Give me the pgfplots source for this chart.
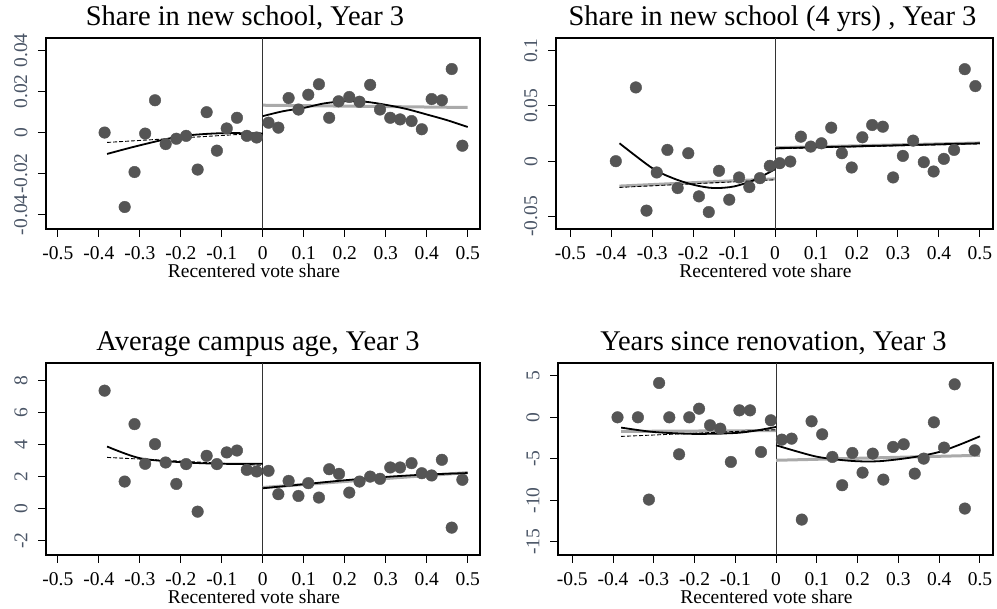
\documentclass[border=0pt]{standalone}
\usepackage{fontspec}
\setmainfont{Liberation Serif}
\usepackage{pgfplots}
\pgfplotsset{compat=1.18}
\definecolor{dot}{HTML}{555555}
\definecolor{fitgray}{HTML}{AAAAAA}
\definecolor{ylab}{HTML}{4A5566}
\pgfplotsset{
  panel/.style={
    scale only axis, width=434pt, height=191pt,
    axis line style={line width=1.2pt, black},
    tick align=outside, xtick pos=lower, ytick pos=left,
    major tick length=8pt,
    tick style={black, line width=1pt},
    scaled y ticks=false, scaled x ticks=false,
    xtick={-0.5,-0.4,-0.3,-0.2,-0.1,0,0.1,0.2,0.3,0.4,0.5},
    xticklabels={-0.5,-0.4,-0.3,-0.2,-0.1,0,0.1,0.2,0.3,0.4,0.5},
    ticklabel style={font=\fontsize{19.5}{21}\selectfont},
    xticklabel style={black},
    xticklabel shift=6pt,
    yticklabel shift=7pt,
    yticklabel style={rotate=90, anchor=south, color=ylab},
    xlabel={Recentered vote share},
    xlabel style={font=\fontsize{19.5}{21}\selectfont, at={(0.5,0)}, anchor=base, yshift=-49pt, xshift=-9pt},
    title style={font=\fontsize{28.5}{31}\selectfont, at={(0.5,1)}, anchor=base, yshift=6pt},
    clip=false,
  },
  pts/.style={only marks, mark=*, mark size=5.8pt, color=dot, mark options={fill=dot, draw=dot}},
  fitb/.style={black, line width=1.8pt, smooth, no marks},
  fitg/.style={fitgray, line width=3pt, no marks},
  fitd/.style={black, line width=0.9pt, dash pattern=on 4pt off 2pt, no marks},
  zline/.style={black!80, line width=0.9pt, no marks},
}
\begin{document}
\begin{tikzpicture}
\path[use as bounding box] (0,0) rectangle (997pt,609pt);

% Panel 1
\begin{axis}[panel, at={(46pt,380pt)}, anchor=south west,
  xmin=-0.529, xmax=0.530, ymin=-0.0469, ymax=0.046,
  ytick={-0.04,-0.02,0,0.02,0.04}, yticklabels={-0.04,-0.02,0,0.02,0.04},
  title={Share in new school, Year 3}, title style={xshift=-18pt}]
\addplot[zline] coordinates {(0,-0.0469) (0,0.046)};
\addplot[pts] coordinates {(-0.386,0) (-0.337,-0.0362) (-0.313,-0.0192) (-0.287,-0.0005) (-0.263,0.0157) (-0.237,-0.0056) (-0.211,-0.003) (-0.187,-0.0016) (-0.159,-0.018) (-0.137,0.0099) (-0.112,-0.0088) (-0.088,0.002) (-0.063,0.0072) (-0.039,-0.0016) (-0.015,-0.0024)};
\addplot[pts] coordinates {(0.014,0.0048) (0.038,0.0024) (0.063,0.0168) (0.087,0.0112) (0.111,0.0184) (0.137,0.0235) (0.162,0.0072) (0.185,0.0152) (0.211,0.0173) (0.236,0.015) (0.262,0.0232) (0.286,0.0112) (0.311,0.0072) (0.335,0.0064) (0.363,0.0056) (0.388,0.0016) (0.412,0.0163) (0.437,0.0157) (0.461,0.0309) (0.487,-0.0064)};
\addplot[fitg] coordinates {(0,0.0133) (0.5,0.0122)};
\addplot[fitd] coordinates {(-0.38,-0.0048) (0,-0.0002)};
\addplot[fitb] coordinates {(-0.38,-0.0104) (-0.3,-0.0062) (-0.2,-0.0018) (-0.1,-0.0003) (0,-0.0005)};
\addplot[fitb] coordinates {(0,0.008) (0.05,0.0104) (0.1,0.012) (0.15,0.0142) (0.2,0.0152) (0.25,0.015) (0.3,0.0135) (0.35,0.0115) (0.4,0.0088) (0.45,0.006) (0.5,0.0027)};
\end{axis}

% Panel 2
\begin{axis}[panel, at={(556pt,380pt)}, anchor=south west, width=437pt,
  xmin=-0.535, xmax=0.532, ymin=-0.0613, ymax=0.1114,
  ytick={-0.05,0,0.05,0.1}, yticklabels={-0.05,0,0.05,0.1},
  title={Share in new school (4 yrs) , Year 3}, title style={xshift=-2pt}]
\addplot[zline] coordinates {(0,-0.0613) (0,0.1114)};
\addplot[pts] coordinates {(-0.389,0) (-0.340,0.0667) (-0.314,-0.0447) (-0.289,-0.0102) (-0.263,0.0102) (-0.238,-0.0243) (-0.212,0.0072) (-0.186,-0.0318) (-0.162,-0.046) (-0.137,-0.0087) (-0.112,-0.0348) (-0.088,-0.0147) (-0.063,-0.0234) (-0.037,-0.0153) (-0.013,-0.0042)};
\addplot[pts] coordinates {(0.011,-0.0018) (0.037,-0.0003) (0.063,0.0222) (0.087,0.0132) (0.113,0.0162) (0.137,0.0303) (0.163,0.0072) (0.187,-0.0057) (0.213,0.0216) (0.237,0.0327) (0.263,0.0312) (0.288,-0.0147) (0.312,0.0048) (0.337,0.0186) (0.363,-0.0009) (0.387,-0.0093) (0.412,0.0021) (0.437,0.0102) (0.463,0.0832) (0.489,0.0679)};
\addplot[fitg] coordinates {(-0.38,-0.0225) (0,-0.0160)};
\addplot[fitg] coordinates {(0,0.0122) (0.5,0.0165)};
\addplot[fitd] coordinates {(-0.38,-0.0237) (0,-0.0168)};
\addplot[fitd] coordinates {(0,0.0112) (0.5,0.0158)};
\addplot[fitb] coordinates {(-0.38,0.0162) (-0.3,-0.0063) (-0.25,-0.0153) (-0.2,-0.0213) (-0.15,-0.0243) (-0.1,-0.0228) (-0.05,-0.0168) (0,-0.0072)};
\addplot[fitb] coordinates {(0,0.0117) (0.5,0.0162)};
\end{axis}

% Panel 3
\begin{axis}[panel, at={(46pt,54pt)}, anchor=south west, height=192pt,
  xmin=-0.529, xmax=0.530, ymin=-2.9, ymax=9.1,
  ytick={-2,0,2,4,6,8}, yticklabels={-2,0,2,4,6,8},
  title={Average campus age, Year 3}, title style={xshift=-5pt}]
\addplot[zline] coordinates {(0,-2.9) (0,9.1)};
\addplot[pts] coordinates {(-0.386,7.37) (-0.337,1.69) (-0.313,5.28) (-0.287,2.80) (-0.263,4.03) (-0.237,2.88) (-0.211,1.54) (-0.187,2.78) (-0.159,-0.19) (-0.137,3.30) (-0.112,2.78) (-0.088,3.51) (-0.063,3.63) (-0.039,2.42) (-0.015,2.32)};
\addplot[pts] coordinates {(0.014,2.36) (0.038,0.90) (0.063,1.73) (0.087,0.79) (0.111,1.59) (0.137,0.69) (0.162,2.46) (0.186,2.17) (0.211,1.00) (0.236,1.69) (0.262,2.00) (0.286,1.86) (0.311,2.57) (0.335,2.57) (0.363,2.84) (0.388,2.21) (0.412,2.07) (0.437,3.05) (0.461,-1.19) (0.487,1.80)};
\addplot[fitg] coordinates {(0,1.32) (0.5,2.25)};
\addplot[fitd] coordinates {(-0.38,3.2) (0,2.7)};
\addplot[fitb] coordinates {(-0.38,3.88) (-0.3,3.15) (-0.2,2.9) (-0.1,2.8) (0,2.8)};
\addplot[fitb] coordinates {(0,1.27) (0.1,1.52) (0.2,1.77) (0.3,1.98) (0.4,2.13) (0.5,2.22)};
\end{axis}

% Panel 4
\begin{axis}[panel, at={(558pt,54pt)}, anchor=south west, width=435pt, height=192pt,
  xmin=-0.535, xmax=0.532, ymin=-16.6, ymax=6.55,
  ytick={-15,-10,-5,0,5}, yticklabels={-15,-10,-5,0,5},
  title={Years since renovation, Year 3}, title style={xshift=-2pt}]
\addplot[zline] coordinates {(0,-16.6) (0,6.55)};
\addplot[pts] coordinates {(-0.389,0) (-0.339,0) (-0.312,-9.92) (-0.287,4.14) (-0.262,0) (-0.238,-4.46) (-0.213,0) (-0.189,1.04) (-0.162,-0.96) (-0.137,-1.37) (-0.111,-5.38) (-0.090,0.84) (-0.064,0.84) (-0.037,-4.18) (-0.013,-0.36)};
\addplot[pts] coordinates {(0.014,-2.69) (0.038,-2.57) (0.063,-12.33) (0.087,-0.48) (0.113,-2.05) (0.138,-4.78) (0.162,-8.19) (0.187,-4.30) (0.212,-6.67) (0.237,-4.38) (0.263,-7.51) (0.287,-3.57) (0.313,-3.25) (0.340,-6.79) (0.362,-4.98) (0.387,-0.60) (0.412,-3.65) (0.438,3.98) (0.463,-11.0) (0.487,-3.98)};
\addplot[fitg] coordinates {(-0.38,-1.7) (0,-1.6)};
\addplot[fitg] coordinates {(0,-5.18) (0.5,-4.58)};
\addplot[fitd] coordinates {(-0.38,-2.3) (0,-1.5)};
\addplot[fitb] coordinates {(-0.38,-1.24) (-0.3,-1.77) (-0.2,-2.0) (-0.1,-1.89) (-0.05,-1.6) (0,-1.16)};
\addplot[fitb] coordinates {(0,-3.37) (0.05,-4.1) (0.1,-4.75) (0.15,-5.1) (0.2,-5.3) (0.25,-5.3) (0.3,-5.06) (0.35,-4.7) (0.4,-4.18) (0.45,-3.3) (0.5,-2.29)};
\end{axis}
\end{tikzpicture}
\end{document}
